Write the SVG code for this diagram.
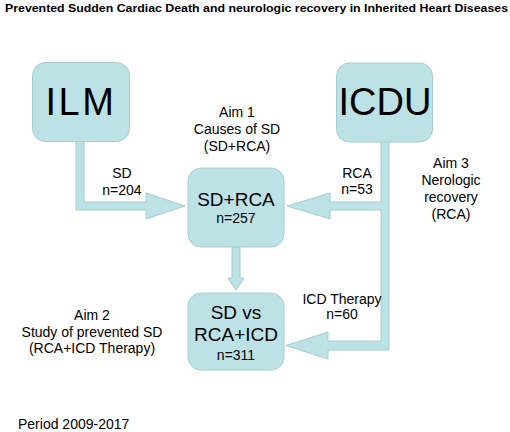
<svg xmlns="http://www.w3.org/2000/svg" width="510" height="432" viewBox="0 0 510 432">
<style>
.box{fill:#bce2e5;stroke:#a6cdd1;stroke-width:1}
.arr{fill:#bce2e5;stroke:#a6cdd1;stroke-width:1;stroke-linejoin:miter}
text{font-family:"Liberation Sans",Arial,sans-serif;fill:#000}
.big{font-size:38px;text-anchor:middle}
.mid{font-size:19px;text-anchor:middle}
.sm{font-size:14px;text-anchor:middle}
.lab{font-size:14px}
</style>
<rect width="510" height="432" fill="#fff"/>
<text x="5" y="12" font-size="11" font-weight="bold" textLength="503" lengthAdjust="spacingAndGlyphs">Prevented Sudden Cardiac Death and neurologic recovery in Inherited Heart Diseases</text>
<g id="connectors">
<polygon class="arr" points="76,141 84,141 84,202 146,202 146,193 185,206 146,219 146,210 76,210"/>
<polygon class="arr" points="381,141 389,141 389,350 328,350 328,359 286,345.5 328,332 328,341 381,341 381,210 330,210 330,219 287,206 330,193 330,202 381,202"/>
<polygon class="arr" points="232,247 240,247 240,278 244,278 236,290 228,278 232,278"/>
</g>
<g id="ILM">
<rect class="box" x="32.5" y="62.5" width="97" height="79" rx="13"/>
<text class="big" x="81" y="115" letter-spacing="2.5">ILM</text>
</g>
<g id="ICDU">
<rect class="box" x="336.5" y="63" width="96" height="79" rx="13"/>
<text class="big" x="385" y="115">ICDU</text>
</g>
<g id="SDRCA">
<rect class="box" x="188" y="168" width="96" height="79" rx="13"/>
<text class="mid" x="236" y="206">SD+RCA</text>
<text class="sm" x="236" y="223">n=257</text>
</g>
<g id="SDvs">
<rect class="box" x="188" y="293" width="96" height="77" rx="13"/>
<text class="mid" x="236" y="319">SD vs</text>
<text class="mid" x="236" y="341">RCA+ICD</text>
<text class="sm" x="236" y="360">n=311</text>
</g>
<g id="labels">
<text class="sm" x="237" y="117">Aim 1</text>
<text class="sm" x="237" y="134">Causes of SD</text>
<text class="sm" x="237" y="151">(SD+RCA)</text>
<text class="sm" x="122" y="178">SD</text>
<text class="sm" x="122" y="195">n=204</text>
<text class="sm" x="357" y="178">RCA</text>
<text class="sm" x="357" y="194">n=53</text>
<text class="sm" x="451" y="168">Aim 3</text>
<text class="sm" x="451" y="185">Nerologic</text>
<text class="sm" x="451" y="202">recovery</text>
<text class="sm" x="451" y="219">(RCA)</text>
<text class="sm" x="342" y="304">ICD Therapy</text>
<text class="sm" x="342" y="319">n=60</text>
<text class="sm" x="92" y="320">Aim 2</text>
<text class="sm" x="92" y="337">Study of prevented SD</text>
<text class="sm" x="92" y="353">(RCA+ICD Therapy)</text>
<text class="lab" x="18" y="429">Period 2009-2017</text>
</g>
</svg>
